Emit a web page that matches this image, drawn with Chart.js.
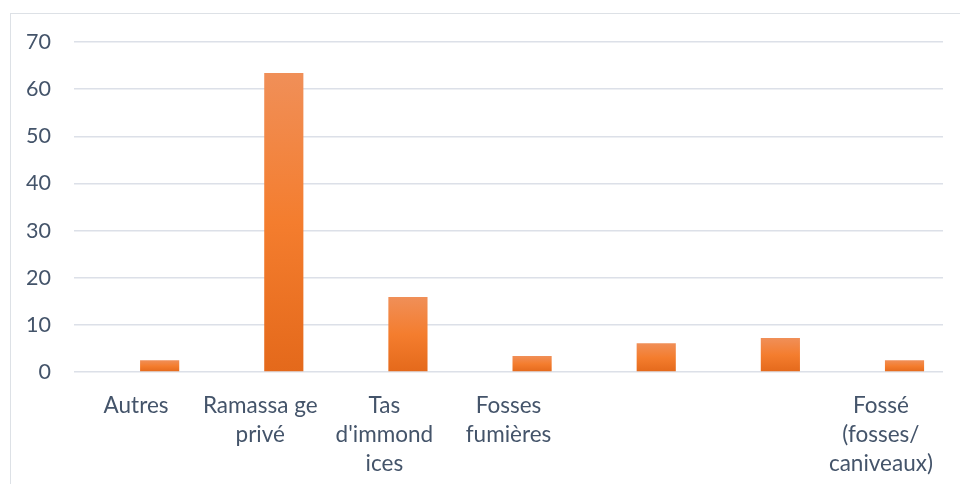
<!DOCTYPE html>
<html>
<head>
<meta charset="utf-8">
<script src="https://cdn.jsdelivr.net/npm/chart.js@4.4.1/dist/chart.umd.min.js"></script>
<style>
  html, body { margin: 0; padding: 0; background: #fff; }
  #frame {
    position: absolute; left: 10px; top: 13px; width: 980px; height: 500px;
    border: 1.5px solid #DDE1E6; box-sizing: border-box;
  }
  #wrap { position: absolute; left: 0; top: 0; width: 960px; height: 484px; }
</style>
</head>
<body>
<div id="frame"></div>
<div id="wrap"><canvas id="chart"></canvas></div>
<script>
// Catégories (libellés découpés comme dans l'original)
const categories = [
  "Autres",
  ["Ramassa ge", "privé"],
  ["Tas", "d'immond", "ices"],
  ["Fosses", "fumières"],
  "",
  "",
  ["Fossé", "(fosses/", "caniveaux)"],
];
// Série vide (occupe la moitié gauche de chaque catégorie)
const emptySeries = [null, null, null, null, null, null, null];
// Valeurs
const values = [2.5, 63.4, 15.9, 3.4, 6.1, 7.2, 2.5];
const yTicks = [0, 10, 20, 30, 40, 50, 60, 70];

const textColor = "#44546A";
const gridColor = "#DCE0E8";

// Dégradé vertical par barre (clair en haut, plus foncé en bas)
function barGradient(context) {
  const chart = context.chart;
  const y = chart.scales.y;
  if (!y || context.raw == null) return "#F07F30";
  const top = y.getPixelForValue(context.raw);
  const base = y.getPixelForValue(0);
  if (!isFinite(top) || !isFinite(base) || top === base) return "#F07F30";
  const g = chart.ctx.createLinearGradient(0, top, 0, base);
  g.addColorStop(0, "#F08F58");
  g.addColorStop(0.5, "#F47D2E");
  g.addColorStop(1, "#E4691B");
  return g;
}

const ctx = document.getElementById("chart").getContext("2d");
new Chart(ctx, {
  type: "bar",
  data: {
    labels: categories,
    datasets: [
      { data: emptySeries, backgroundColor: "rgba(0,0,0,0)" },
      { data: values, backgroundColor: barGradient },
    ],
  },
  options: {
    responsive: true,
    maintainAspectRatio: false,
    animation: false,
    categoryPercentage: 0.76,
    barPercentage: 0.83,
    layout: { padding: { top: 42, right: 17, left: 0, bottom: 0 } },
    plugins: { legend: { display: false }, tooltip: { enabled: false } },
    scales: {
      x: {
        grid: { display: false },
        border: { display: false },
        ticks: {
          autoSkip: false,
          maxRotation: 0,
          color: textColor,
          padding: 11,
          font: { family: "Lato", size: 22.5, lineHeight: 1.29 },
        },
        afterFit: (s) => { s.height = 112; },
      },
      y: {
        min: 0,
        max: 70,
        afterBuildTicks: (s) => { s.ticks = yTicks.map((v) => ({ value: v })); },
        grid: { color: gridColor, lineWidth: 1.5, drawTicks: false },
        border: { display: false },
        ticks: {
          color: textColor,
          padding: 23,
          font: { family: "Lato", size: 21.5 },
        },
        afterFit: (s) => { s.width = 74; },
      },
    },
  },
});
</script>
</body>
</html>
